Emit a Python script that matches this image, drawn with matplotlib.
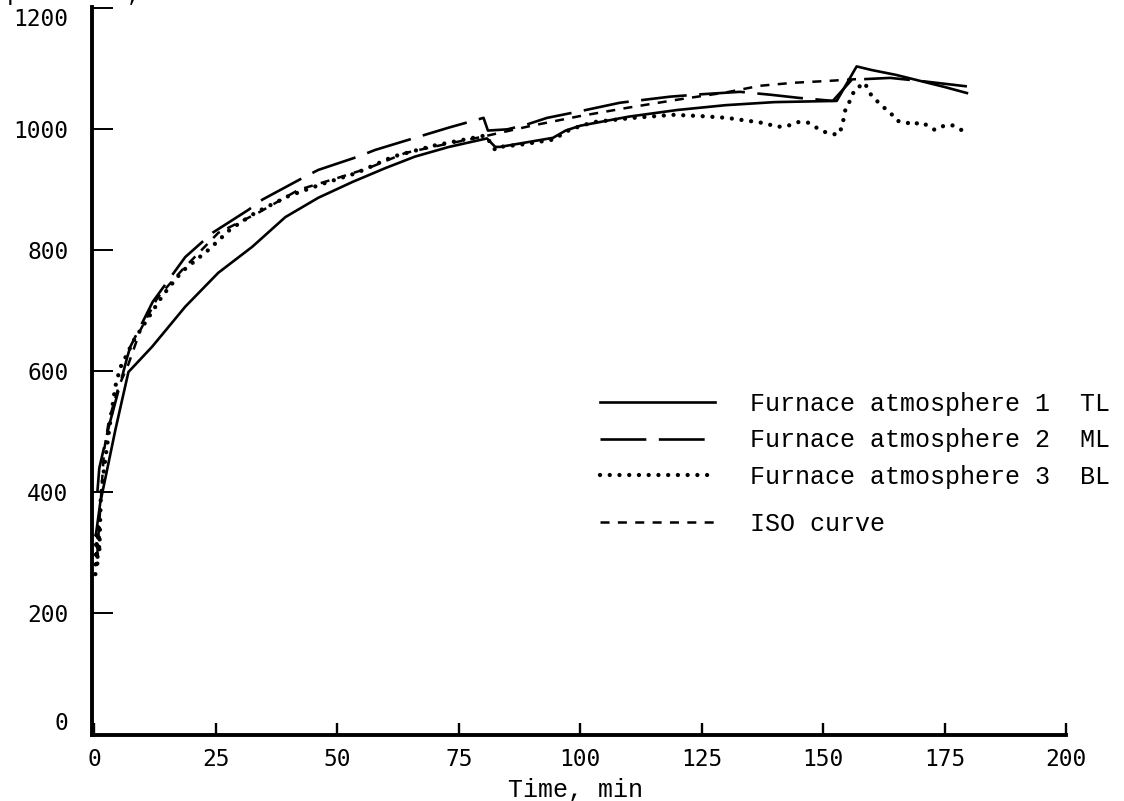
import matplotlib
matplotlib.use('Agg')
import matplotlib.pyplot as plt

plt.rcParams['lines.scale_dashes'] = False

# ---------------- data ----------------
x_ticks = [0, 25, 50, 75, 100, 125, 150, 175, 200]
y_ticks = [0, 200, 400, 600, 800, 1000, 1200]

t_tl = [0.3, 1.2, 4.3, 5.7, 7.0, 11.9, 18.7, 25.5, 32.5, 39.3, 46.1, 53.1, 59.9, 66.0, 73,
        80.8, 82.5, 83.5, 94.4, 97, 100, 110, 120, 130, 140, 152.8, 156.9, 160, 165, 170, 175, 179.6]
T_tl = [330, 383, 503, 553, 599, 641, 707, 763, 806, 855, 887, 913, 936, 955, 971,
        985, 971, 971, 986, 998, 1006, 1021, 1032, 1040, 1045, 1047, 1104, 1098, 1090, 1080, 1070, 1060]

t_ml = [0.6, 1.0, 3.0, 5.0, 6.8, 7.4, 12, 18.7, 22.2, 24.3, 31.7, 34.6, 43.4, 46.1, 54.3, 57.8,
        66.0, 73, 80.1, 81.0, 85, 89, 93.2, 100, 108.2, 118.5, 125, 132.9, 139.4, 145, 152,
        155.9, 163.8, 170, 179.6]
T_ml = [400, 440, 510, 570, 625, 641, 715, 789, 814, 829, 867, 884, 922, 933, 955, 966,
        986, 1003, 1019, 998, 1000, 1008, 1019, 1030, 1044, 1054, 1058, 1062, 1057, 1052, 1047,
        1082, 1085, 1080, 1071]

t_bl = [0.2, 0.4, 0.6, 0.8, 1.0, 1.3, 2.0, 3.3, 4.3, 5.3, 6.5, 8, 10, 14, 18, 23.5, 28, 33.1,
        40, 47, 54, 61.5, 69.8, 78, 80.5, 81.5, 82.5, 83.5, 88, 94.4, 98, 102.7, 110.9, 119.1,
        124.7, 130.2, 134.6, 136.6, 138.5, 140.5, 142.8, 144.7, 146.9, 148.8, 150.8, 153.1,
        153.9, 154.3, 154.7, 155.8, 156.4, 158.6, 159.3, 160.3, 161.5, 162.8, 164.0, 165.2,
        167.1, 168.3, 170.0, 171.6, 173.0, 174.9, 176.5, 178.0, 179.6]
T_bl = [265, 330, 280, 350, 300, 390, 440, 520, 575, 606, 625, 650, 675, 725, 765, 801, 835, 862,
        890, 910, 928, 955, 973, 986, 990, 978, 966, 971, 975, 983, 1000, 1012, 1019, 1024,
        1022, 1019, 1014, 1012, 1009, 1004, 1006, 1012, 1011, 1002, 994, 991,
        1004, 1021, 1037, 1050, 1065, 1077, 1064, 1052, 1044, 1034, 1026, 1014,
        1012, 1007, 1012, 1006, 999, 1006, 1007, 1001, 994]

t_iso = [0.6, 1, 2, 3, 5, 7, 9.5, 13, 18.1, 25.5, 33.7, 42, 50.2, 56.4, 64, 72, 80, 90, 100,
         110, 120, 130, 137, 144, 151, 157]
T_iso = [300, 350, 470, 520, 575, 612, 669, 722, 768, 829, 862, 900, 920, 936, 961, 975, 988,
         1006, 1022, 1036, 1049, 1061, 1072, 1077, 1080, 1083]

labels = ["Furnace atmosphere 1  TL", "Furnace atmosphere 2  ML",
          "Furnace atmosphere 3  BL", "ISO curve"]
x_label = "Time, min"
y_label = "Temperature, \u00b0C"

# ---------------- figure ----------------
W, H = 1124, 801
fig = plt.figure(figsize=(W / 100, H / 100), dpi=100)
fig.patch.set_facecolor('white')
ax = fig.add_axes([92 / W, (H - 734.5) / H, 974 / W, 728 / H])
ax.set_xlim(-0.5, 200)
ax.set_ylim(0, 1203)

mono = 'Liberation Mono'
tickfont = 'DejaVu Sans Mono'

l1, = ax.plot(t_tl, T_tl, color='black', lw=1.9, linestyle='-', label=labels[0],
              solid_joinstyle='round')
l2, = ax.plot(t_ml, T_ml, color='black', lw=1.9, linestyle=(0, (33, 9)), label=labels[1])
l3, = ax.plot(t_bl, T_bl, color='black', lw=3.1, linestyle=(0, (0.01, 7.0)),
              dash_capstyle='round', label=labels[2])
l4, = ax.plot(t_iso, T_iso, color='black', lw=1.8, linestyle=(0, (6.5, 6.0)), label=labels[3])

for s in ['top', 'right']:
    ax.spines[s].set_visible(False)
for s in ['left', 'bottom']:
    ax.spines[s].set_linewidth(2.8)
    ax.spines[s].set_color('black')

ax.set_xticks(x_ticks)
ax.set_yticks(y_ticks)
ax.set_xticklabels([str(v) for v in x_ticks], fontfamily=tickfont, fontsize=16.5)
ax.set_yticklabels([str(v) for v in y_ticks], fontfamily=tickfont, fontsize=16.5)
ax.tick_params(axis='x', direction='in', length=9, width=1.7, pad=10, colors='black')
ax.tick_params(axis='y', direction='in', length=15, width=1.4, pad=17, colors='black')
ylabs = ax.get_yticklabels()
ylabs[0].set_verticalalignment('bottom')
ylabs[-1].set_verticalalignment('top')

fig.text(575 / W, 4 / H, x_label, ha='center', va='baseline', fontfamily=mono, fontsize=18)
fig.text(-38 / W, 1.0, y_label, ha='left', va='baseline', fontfamily=mono, fontsize=18)

leg_kw = dict(loc='upper left', bbox_transform=fig.transFigure, frameon=False,
              prop={'family': mono, 'size': 18}, handlelength=4.6,
              handletextpad=1.4, labelspacing=0.5, borderpad=0, borderaxespad=0)
leg1 = ax.legend(handles=[l1, l2, l3], labels=labels[:3],
                 bbox_to_anchor=(600 / W, (H - 392) / H), **leg_kw)
ax.add_artist(leg1)
leg2 = ax.legend(handles=[l4], labels=labels[3:],
                 bbox_to_anchor=(600 / W, (H - 512) / H), **leg_kw)

fig.savefig('out.png', dpi=100, facecolor='white')
